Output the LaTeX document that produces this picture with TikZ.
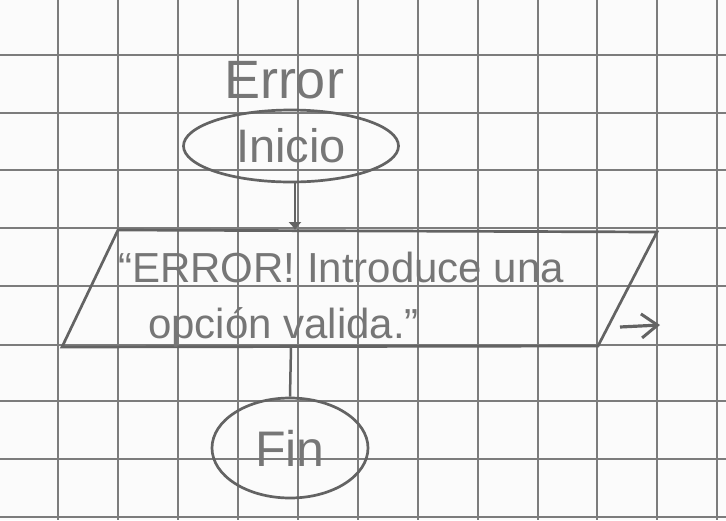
\documentclass[tikz,border=0pt]{standalone}
\usepackage{fontspec}
\setmainfont{Liberation Sans}
\usetikzlibrary{shapes.geometric,arrows.meta}
\definecolor{pencil}{HTML}{636363}
\definecolor{pencilt}{HTML}{767676}
\definecolor{gridc}{HTML}{7c7c7c}
\definecolor{paper}{HTML}{FBFBFB}
\tikzset{
  gridline/.style={draw=gridc,line width=1.5pt},
  outline/.style={draw=pencil,line width=2.7pt},
  termbox/.style={ellipse,outline,inner sep=0pt,text=pencilt},
  handtext/.style={text=pencilt,inner sep=0pt},
  flowarrow/.style={draw=pencil,line width=2.5pt,-{Latex[length=8pt,width=14pt]}},
  flowline/.style={draw=pencil,line width=2.5pt},
  outarrow/.style={draw=pencil,line width=3.2pt,-{Straight Barb[length=16pt,width=24pt,line width=3pt]}}
}
\begin{document}
\begin{tikzpicture}[x=1pt,y=-1pt]
\useasboundingbox (0,0) rectangle (726,520);
\fill[paper] (0,0) rectangle (726,520);
% grid paper
\foreach \gx in {-2,58,118,178,238,298,358,418,478,538,597,657,717}
  \draw[gridline] (\gx,0) -- (\gx,520);
\foreach \gy in {-3,55,113,170,228,286,345,401,459,517}
  \draw[gridline] (0,\gy) -- (726,\gy);
% title
\node[handtext,anchor=base,font=\fontsize{54}{54}\selectfont] (title) at (284,98) {Error};
% start
\node[termbox,minimum width=215pt,minimum height=72pt,font=\fontsize{47}{47}\selectfont] (inicio) at (291,146) {Inicio};
% output parallelogram
\coordinate (ptl) at (118,230);
\coordinate (ptr) at (657,232);
\coordinate (pbr) at (598,346);
\coordinate (pbl) at (62,347);
\draw[outline] (ptl) -- (ptr) -- (pbr) -- (pbl) -- cycle;
\coordinate (ptop) at (295,230);
\coordinate (pbot) at (291,347);
\coordinate (pright) at (620,327);
\coordinate (pout) at (660,325);
\node[handtext,anchor=base west,font=\fontsize{42}{42}\selectfont] (linea) at (118,282) {“ERROR! Introduce una};
\node[handtext,anchor=base west,font=\fontsize{42}{42}\selectfont] (lineb) at (148,338) {opción valida.”};
% end
\node[termbox,minimum width=156pt,minimum height=100pt,font=\fontsize{50}{50}\selectfont] (fin) at (290,448) {Fin};
% connectors
\draw[flowarrow] (inicio.south -| ptop) -- (ptop);
\draw[flowline] (pbot) -- (fin.north);
\draw[outarrow] (pright) -- (pout);
\end{tikzpicture}
\end{document}
